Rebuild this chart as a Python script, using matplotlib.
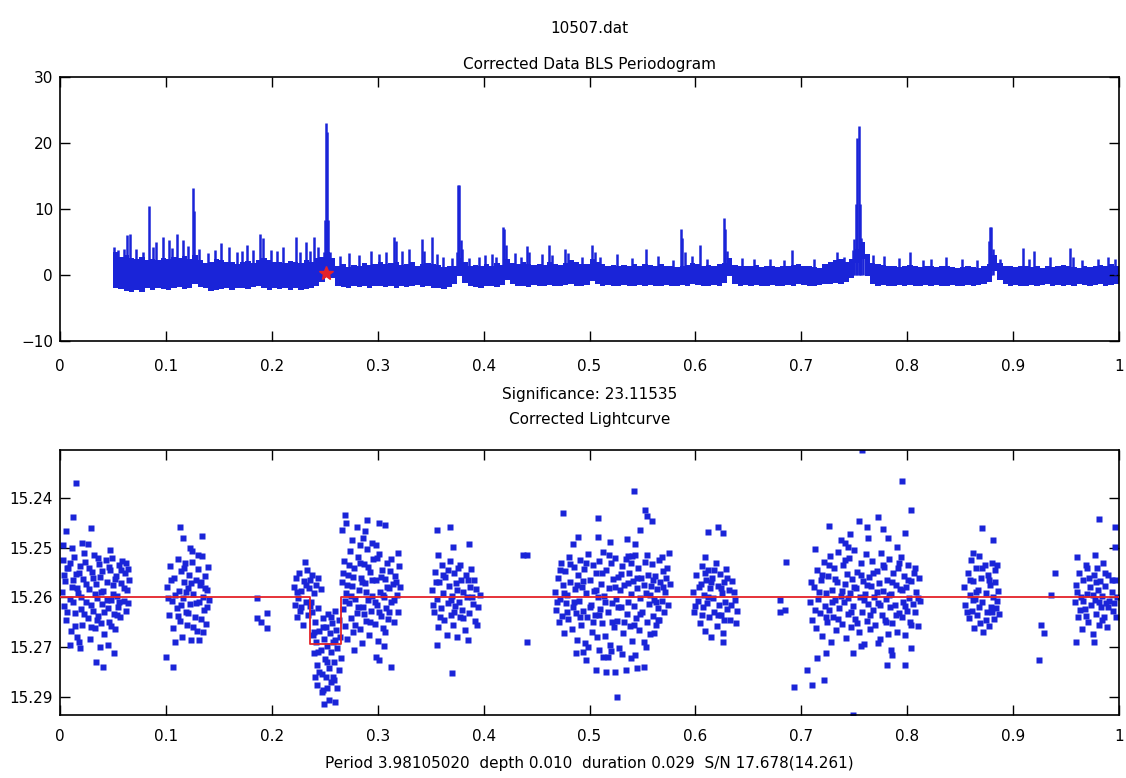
import numpy as np
import matplotlib.pyplot as plt

BLUE = '#1a24d8'
RED = '#e4222a'

# ---- BLS periodogram (frequency in 1/day) ----
freq_grid = np.round(np.arange(0.05, 1.0001, 0.005), 3)

# upper / lower edge of the dense noise band, one value per grid step
band_top = [
    3.5, 2.8, 3.0, 2.6, 2.4, 2.8, 2.2, 2.5, 2.3, 2.6,
    2.4, 2.8, 2.6, 2.9, 2.5, 3.0, 2.2, 1.8, 2.0, 2.4,
    2.2, 1.9, 2.0, 1.7, 1.9, 2.1, 1.8, 2.3, 2.6, 2.2,
    1.9, 2.0, 1.8, 2.1, 2.0, 1.8, 2.2, 2.0, 2.6, 2.8,
    3.5, 2.6, 1.4, 1.6, 1.2, 1.5, 1.4, 1.8, 1.5, 1.7,
    1.9, 1.6, 1.8, 2.0, 1.5, 1.7, 1.9, 1.4, 1.6, 1.8,
    1.7, 1.5, 1.2, 1.4, 1.3, 2.6, 1.9, 1.3, 1.5, 1.4,
    1.6, 1.4, 1.8, 1.5, 2.4, 1.8, 1.6, 1.9, 1.7, 1.5,
    1.6, 1.5, 1.9, 1.7, 1.5, 1.8, 2.2, 1.9, 1.6, 1.7,
    2.4, 2.0, 1.6, 1.4, 1.5, 1.3, 1.5, 1.4, 1.6, 1.3,
    1.6, 1.5, 1.4, 1.6, 1.3, 1.4, 1.2, 1.3, 1.5, 1.8,
    1.6, 1.4, 1.5, 1.3, 1.6, 1.8, 2.6, 1.5, 1.3, 1.4,
    1.3, 1.5, 1.2, 1.4, 1.3, 1.2, 1.4, 1.3, 1.5, 1.6,
    1.4, 1.3, 1.2, 1.1, 1.6, 2.0, 2.2, 2.4, 2.0, 2.4,
    4.0, 5.0, 3.2, 1.8, 1.6, 1.5, 1.3, 1.4, 1.2, 1.4,
    1.5, 1.3, 1.2, 1.4, 1.3, 1.2, 1.3, 1.4, 1.2, 1.1,
    1.2, 1.3, 1.2, 1.1, 1.3, 1.6, 3.0, 1.8, 1.4, 1.3,
    1.2, 1.4, 1.3, 1.2, 1.3, 1.1, 1.3, 1.2, 1.4, 1.5,
    1.3, 1.2, 1.1, 1.3, 1.2, 1.4, 1.5, 1.3, 1.6, 1.4,
    1.5,
]
band_bottom = [
    -1.9, -2.1, -2.4, -2.6, -2.3, -2.5, -2.0, -2.2, -1.9, -2.1,
    -2.2, -2.0, -1.8, -2.1, -1.9, -1.3, -1.8, -2.0, -2.4, -2.2,
    -2.1, -2.0, -2.2, -1.9, -2.0, -2.1, -1.8, -1.6, -2.0, -2.2,
    -2.0, -2.1, -1.9, -2.2, -2.0, -2.3, -2.1, -2.0, -1.6, -1.0,
    0.2, -0.4, -1.6, -1.8, -1.9, -1.7, -1.8, -1.6, -1.9, -1.7,
    -1.6, -1.8, -1.7, -1.9, -1.6, -1.8, -1.7, -1.5, -1.8, -1.7,
    -1.9, -2.0, -2.1, -1.8, -1.4, -0.2, -1.2, -1.7, -1.8, -1.9,
    -1.7, -1.6, -1.8, -1.5, -0.8, -1.4, -1.7, -1.6, -1.8, -1.5,
    -1.6, -1.7, -1.5, -1.6, -1.7, -1.5, -1.4, -1.6, -1.7, -1.5,
    -0.9, -1.4, -1.6, -1.5, -1.7, -1.6, -1.5, -1.7, -1.6, -1.5,
    -1.6, -1.5, -1.7, -1.6, -1.5, -1.7, -1.6, -1.5, -1.6, -1.3,
    -1.5, -1.7, -1.6, -1.5, -1.6, -1.2, -0.2, -1.3, -1.6, -1.5,
    -1.7, -1.5, -1.6, -1.7, -1.5, -1.6, -1.7, -1.5, -1.6, -1.4,
    -1.5, -1.6, -1.7, -1.5, -1.4, -1.3, -1.2, -1.3, -1.1, -0.4,
    1.8, 2.4, -0.2, -1.3, -1.6, -1.5, -1.7, -1.6, -1.5, -1.6,
    -1.5, -1.7, -1.6, -1.5, -1.6, -1.5, -1.7, -1.6, -1.5, -1.6,
    -1.6, -1.5, -1.7, -1.5, -1.4, -1.0, 0.6, -0.8, -1.4, -1.6,
    -1.5, -1.7, -1.6, -1.5, -1.6, -1.5, -1.4, -1.6, -1.5, -1.6,
    -1.5, -1.6, -1.4, -1.5, -1.6, -1.5, -1.4, -1.6, -1.5, -1.4,
    -1.5,
]

# narrow spikes rising out of the band
peak_freq = [
    0.0510, 0.0550, 0.0600, 0.0630, 0.0660, 0.0720, 0.0780, 0.0837, 0.0880, 0.0910,
    0.0970, 0.1030, 0.1060, 0.1100, 0.1160, 0.1210, 0.1256, 0.1268, 0.1310, 0.1400,
    0.1460, 0.1520, 0.1600, 0.1670, 0.1720, 0.1770, 0.1820, 0.1890, 0.1920, 0.1990,
    0.2050, 0.2110, 0.2225, 0.2270, 0.2320, 0.2360, 0.2400, 0.2440, 0.2495, 0.2505,
    0.2512, 0.2520, 0.2530, 0.2545, 0.2640, 0.2730, 0.2820, 0.2940, 0.3010, 0.3080,
    0.3150, 0.3170, 0.3230, 0.3300, 0.3415, 0.3440, 0.3516, 0.3560, 0.3620, 0.3700,
    0.3748, 0.3762, 0.3772, 0.3785, 0.3798, 0.3860, 0.3960, 0.4013, 0.4083, 0.4120,
    0.4185, 0.4195, 0.4210, 0.4300, 0.4350, 0.4407, 0.4425, 0.4550, 0.4618, 0.4650,
    0.4770, 0.4800, 0.4930, 0.5020, 0.5050, 0.5100, 0.5257, 0.5400, 0.5530, 0.5650,
    0.5790, 0.5862, 0.5875, 0.5900, 0.5970, 0.6040, 0.6110, 0.6270, 0.6282, 0.6300,
    0.6440, 0.6550, 0.6700, 0.6840, 0.6910, 0.7120, 0.7340, 0.7400, 0.7490, 0.7500,
    0.7515, 0.7530, 0.7540, 0.7550, 0.7565, 0.7580, 0.7680, 0.7780, 0.7920, 0.8026,
    0.8150, 0.8220, 0.8370, 0.8520, 0.8660, 0.8775, 0.8785, 0.8795, 0.8810, 0.8880,
    0.9097, 0.9150, 0.9200, 0.9350, 0.9537, 0.9570, 0.9650, 0.9800, 0.9900, 0.9960,
]
peak_power = [
    4.3, 3.8, 4.0, 6.0, 6.2, 3.9, 3.5, 10.4, 4.2, 5.0,
    5.8, 5.3, 4.1, 6.2, 5.3, 4.4, 13.2, 9.7, 4.0, 3.3,
    3.8, 4.8, 4.3, 3.5, 3.7, 4.6, 3.8, 6.2, 5.6, 3.8,
    3.6, 4.3, 5.8, 3.5, 5.0, 3.6, 5.8, 4.3, 3.5, 8.3,
    23.1, 21.6, 8.3, 3.5, 2.9, 3.4, 3.0, 3.7, 3.2, 3.5,
    5.8, 5.2, 3.7, 3.9, 5.4, 3.7, 5.7, 3.2, 2.8, 2.6,
    3.5, 13.7, 13.7, 5.3, 4.0, 2.6, 2.8, 3.0, 3.2, 2.8,
    7.3, 7.0, 4.5, 3.4, 2.7, 4.4, 3.5, 3.2, 4.6, 3.0,
    3.9, 3.4, 2.8, 4.6, 3.5, 2.8, 3.2, 2.6, 3.9, 2.9,
    2.2, 7.0, 5.6, 3.5, 2.9, 4.6, 2.5, 8.7, 7.0, 3.6,
    2.6, 2.5, 2.4, 2.3, 3.8, 2.4, 3.5, 2.8, 3.8, 5.5,
    10.8, 20.8, 22.6, 10.8, 5.6, 3.8, 3.0, 2.9, 2.6, 3.5,
    2.2, 2.5, 2.8, 2.4, 2.3, 5.1, 7.3, 7.2, 4.0, 2.4,
    4.1, 2.5, 3.7, 2.8, 4.1, 2.7, 2.3, 2.4, 2.8, 2.5,
]
best_freq = 0.2512
best_power = 0.3

# ---- folded light curve: (phase, mag - 15.26 in millimag) ----
lc_a = [(0.003, -7.5), (0.005, -3.2), (0.004, 1.8), (0.006, 4.6), (0.008, -5.9), (0.009, 0.4),
        (0.010, 6.8), (0.011, -2.1), (0.013, -8.2), (0.014, 3.1), (0.015, -4.7), (0.016, 7.9),
        (0.017, -0.9), (0.019, -6.3), (0.020, 2.4), (0.021, 5.5), (0.022, -3.8), (0.024, -7.1),
        (0.025, 0.9), (0.026, 4.1), (0.027, -1.6), (0.028, 8.4), (0.030, -5.2), (0.031, 2.8),
        (0.032, -8.6), (0.033, 6.1), (0.034, -2.7), (0.035, 0.1), (0.036, 3.7), (0.037, -6.8),
        (0.038, -4.1), (0.039, 5.2), (0.040, 1.3), (0.041, -1.2), (0.042, 7.3), (0.043, -7.6),
        (0.044, -3.0), (0.045, 2.2), (0.046, 4.9), (0.047, -5.5), (0.048, 0.6), (0.049, -8.0),
        (0.050, -2.4), (0.051, 3.3), (0.052, 6.4), (0.053, -4.4), (0.054, -0.3), (0.055, 1.9),
        (0.056, -6.6), (0.057, 4.0), (0.058, -2.9), (0.059, -7.3), (0.060, 0.8), (0.061, -4.9),
        (0.062, 2.7), (0.063, -1.5), (0.064, -5.8), (0.065, -3.4), (0.002, -1.0), (0.007, -6.0),
        (0.012, 1.0), (0.018, 9.0), (0.023, -9.0), (0.029, 6.0), (0.045, 9.5), (0.038, 10.0),
        (0.004, -4.5), (0.007, 2.9), (0.009, -7.0), (0.012, -3.6), (0.014, 5.8), (0.016, -1.8),
        (0.018, -5.0), (0.020, 0.0), (0.023, 3.3), (0.025, -2.6), (0.027, -6.0), (0.029, 1.5),
        (0.031, -3.9), (0.033, -0.7), (0.035, 4.5), (0.036, -7.9), (0.039, -1.0), (0.040, -5.3),
        (0.042, 3.0), (0.044, 0.5), (0.046, -6.2), (0.048, 5.8), (0.050, -0.6), (0.052, -3.8),
        (0.054, 3.6), (0.056, 0.9), (0.058, -5.6), (0.060, -1.8), (0.062, -7.0), (0.064, 1.1),
        (0.011, -10.0), (0.021, -11.0), (0.047, -9.5),
        (0.015, -23.0), (0.012, -16.2), (0.006, -13.3), (0.029, -13.9), (0.041, 13.9),
        (0.034, 12.9), (0.051, 11.2), (0.019, 10.2), (0.009, 9.5), (0.003, -10.5), (0.026, -10.8)]
lc_b = [(0.101, -2.0), (0.103, 3.5), (0.104, -6.4), (0.106, 0.8), (0.107, 6.2), (0.108, -4.0),
        (0.110, 2.1), (0.111, -7.8), (0.112, -1.2), (0.113, 4.8), (0.114, -5.3), (0.115, 7.9),
        (0.116, 0.2), (0.117, -3.1), (0.118, -6.9), (0.119, 2.9), (0.120, 5.6), (0.121, -1.9),
        (0.122, -4.6), (0.123, 1.4), (0.124, 8.6), (0.125, -7.2), (0.126, -0.6), (0.127, 3.9),
        (0.128, -3.6), (0.129, 6.7), (0.130, -5.7), (0.131, 1.0), (0.132, -2.5), (0.133, 4.3),
        (0.134, -8.3), (0.135, -0.1), (0.136, 2.6), (0.137, -4.3), (0.138, 5.3), (0.139, -1.4),
        (0.140, -6.2), (0.141, 0.5), (0.109, 9.0), (0.131, 8.5),
        (0.102, 0.2), (0.105, -3.5), (0.109, -0.5), (0.111, 3.8), (0.114, 1.6), (0.117, -5.9),
        (0.119, -1.0), (0.121, 3.2), (0.124, -2.8), (0.126, 6.0), (0.128, 1.2), (0.130, -8.6),
        (0.133, -3.0), (0.135, 6.9), (0.137, -1.8), (0.139, 2.0),
        (0.113, -14.1), (0.116, -11.9), (0.134, -12.4), (0.123, -10.0), (0.125, -9.3),
        (0.100, 11.9), (0.107, 13.9)]
lc_gap1 = [(0.186, 0.2), (0.195, 3.1), (0.186, 4.1), (0.195, 6.1), (0.190, 5.0)]
lc_c = [(0.221, -2.0), (0.222, 1.5), (0.223, -3.9), (0.224, 4.0), (0.225, 0.2), (0.226, -5.0),
        (0.227, 2.8), (0.228, -1.3), (0.229, 5.5), (0.230, -3.2), (0.231, -7.2), (0.232, 0.9),
        (0.233, -5.5), (0.234, 3.6), (0.235, -1.9), (0.236, -3.5), (0.237, 1.0), (0.238, -4.5),
        (0.240, -0.9), (0.242, -2.5), (0.244, -4.0), (0.246, -1.6),
        (0.224, -1.0), (0.228, 2.0), (0.232, -2.5), (0.236, 1.8)]
lc_dip = [(0.238, 3.0), (0.239, 7.5), (0.240, 11.2), (0.241, 5.0), (0.242, 9.0), (0.243, 13.5),
          (0.244, 2.2), (0.245, 6.8), (0.246, 10.5), (0.247, 15.3), (0.248, 4.2), (0.249, 8.3),
          (0.250, 12.4), (0.251, 6.0), (0.252, 9.8), (0.253, 3.4), (0.254, 14.2), (0.255, 7.2),
          (0.256, 11.0), (0.257, 5.1), (0.258, 8.9), (0.259, 13.0), (0.260, 2.7), (0.261, 6.5),
          (0.262, 10.1), (0.263, 4.5), (0.264, 8.0), (0.265, 12.2), (0.243, 17.5), (0.247, 19.0),
          (0.252, 18.2), (0.256, 17.0), (0.249, 21.3), (0.254, 20.5), (0.241, 16.0), (0.258, 16.0),
          (0.262, 18.2), (0.259, 16.6), (0.248, 18.6), (0.260, 20.9),
          (0.240, 7.0), (0.244, 11.0), (0.248, 6.0), (0.252, 13.0), (0.256, 4.0), (0.260, 8.5),
          (0.263, 14.5), (0.245, 15.0), (0.251, 16.0)]
lc_d = [(0.266, -3.0), (0.267, 2.4), (0.268, -7.4), (0.269, 5.8), (0.270, -0.8), (0.271, 8.4),
        (0.272, -4.6), (0.273, 1.2), (0.274, -9.3), (0.275, 4.1), (0.276, -2.2), (0.277, 7.0),
        (0.278, -6.0), (0.279, 0.3), (0.280, 3.2), (0.281, -8.1), (0.282, -1.5), (0.283, 6.3),
        (0.284, -4.0), (0.285, 9.2), (0.286, 1.9), (0.287, -6.8), (0.288, -2.9), (0.289, 4.7),
        (0.290, -9.8), (0.291, 0.6), (0.292, 7.6), (0.293, -5.1), (0.294, 2.7), (0.295, -0.2),
        (0.296, -7.7), (0.297, 5.4), (0.298, -3.4), (0.299, 1.5), (0.300, 8.8), (0.301, -8.8),
        (0.302, -1.1), (0.303, 3.8), (0.304, -5.6), (0.305, 6.1), (0.306, 0.0), (0.307, -3.7),
        (0.308, 2.2), (0.309, -7.0), (0.310, 4.4), (0.311, -1.8), (0.312, -5.3), (0.313, 1.0),
        (0.314, -2.6), (0.315, 5.0), (0.316, -4.3), (0.318, -0.5), (0.319, 2.9), (0.320, -6.3),
        (0.321, -2.0), (0.283, -10.5), (0.295, -11.0), (0.278, 10.5), (0.306, 9.8),
        (0.267, -5.0), (0.269, 0.8), (0.271, -2.4), (0.273, -6.5), (0.275, -0.3), (0.277, -4.2),
        (0.279, 5.6), (0.281, 2.0), (0.283, -7.0), (0.285, -3.0), (0.287, 3.4), (0.289, -1.0),
        (0.291, -6.1), (0.293, 5.0), (0.295, -3.6), (0.297, 1.0), (0.299, -8.0), (0.301, 3.0),
        (0.303, -4.2), (0.305, -0.5), (0.307, 7.0), (0.309, -2.0), (0.311, 3.0), (0.313, -7.8),
        (0.315, 0.5), (0.317, -3.0), (0.319, -9.0), (0.276, -11.5), (0.286, -12.0), (0.298, -10.5),
        (0.269, -16.6), (0.270, -14.9), (0.280, -14.1), (0.288, -13.3), (0.290, -15.6),
        (0.301, -14.9), (0.307, -14.6), (0.266, -13.6), (0.301, 12.5), (0.313, 13.9), (0.298, 11.9)]
lc_e = [(0.351, -1.5), (0.353, 3.0), (0.354, -5.2), (0.356, 0.4), (0.357, 6.0), (0.358, -3.0),
        (0.360, 2.2), (0.361, -6.6), (0.362, -0.8), (0.363, 4.6), (0.364, -4.1), (0.365, 7.5),
        (0.366, 1.1), (0.367, -2.3), (0.368, -7.4), (0.369, 3.5), (0.370, -0.3), (0.371, 5.6),
        (0.372, -5.0), (0.373, 1.8), (0.374, -2.8), (0.375, 8.0), (0.376, -6.0), (0.377, 0.9),
        (0.378, 4.0), (0.379, -3.6), (0.380, 2.6), (0.381, -1.0), (0.382, 6.6), (0.383, -4.6),
        (0.384, 0.0), (0.386, 3.2), (0.387, -2.0), (0.388, -5.8), (0.390, 1.4), (0.392, 4.8),
        (0.393, -1.6), (0.395, 2.0), (0.397, -0.5),
        (0.352, 1.5), (0.355, -3.0), (0.359, 4.0), (0.362, -4.5), (0.366, -5.5), (0.369, 0.5),
        (0.372, 2.9), (0.375, -1.5), (0.378, -6.5), (0.381, 4.2), (0.385, -3.4), (0.389, 0.0),
        (0.391, -3.5), (0.394, 5.5),
        (0.356, -13.6), (0.368, -14.1), (0.371, -10.2), (0.386, -10.8), (0.357, -8.5),
        (0.356, 9.5), (0.370, 15.1), (0.385, 8.5)]
lc_gap2 = [(0.437, -8.5), (0.441, -8.5), (0.441, 8.9)]
lc_f = [(0.467, -1.0), (0.468, 2.5), (0.470, -4.0), (0.471, 5.0), (0.472, 0.3), (0.473, -7.0),
        (0.474, 3.8), (0.475, -2.5), (0.476, 7.2), (0.477, -5.4), (0.478, 1.2), (0.479, -0.4),
        (0.480, 4.4), (0.481, -8.2), (0.482, -3.0), (0.483, 6.3), (0.484, 1.9), (0.485, -6.1),
        (0.486, -1.6), (0.487, 3.2), (0.488, 8.5), (0.489, -4.5), (0.490, 0.7), (0.491, -7.6),
        (0.492, 5.6), (0.493, -2.0), (0.494, 2.8), (0.495, -5.8), (0.496, 9.1), (0.497, -0.8),
        (0.498, 4.0), (0.499, -8.8), (0.500, -3.4), (0.501, 1.5), (0.502, 6.9), (0.503, -6.5),
        (0.504, -1.2), (0.505, 3.6), (0.506, -4.9), (0.507, 8.0), (0.508, 0.0), (0.509, -7.3),
        (0.510, 2.3), (0.511, -2.7), (0.512, 5.2), (0.513, -9.2), (0.514, -0.3), (0.515, 7.7),
        (0.516, -5.5), (0.517, 3.0), (0.518, -1.8), (0.519, 9.5), (0.520, -6.9), (0.521, 1.1),
        (0.522, -3.8), (0.523, 6.0), (0.524, -8.0), (0.525, 0.4), (0.526, 4.7), (0.527, -4.2),
        (0.528, 10.2), (0.529, -1.4), (0.530, 2.0), (0.531, -6.3), (0.532, 7.1), (0.533, -2.4),
        (0.534, -7.8), (0.535, 3.4), (0.536, 0.9), (0.537, -5.0), (0.538, 5.8), (0.539, -0.6),
        (0.540, 8.7), (0.541, -3.2), (0.542, 1.7), (0.543, -8.5), (0.544, 4.2), (0.545, -1.9),
        (0.546, -5.9), (0.547, 6.5), (0.548, 0.2), (0.549, -3.9), (0.550, 2.9), (0.551, 9.0),
        (0.552, -7.1), (0.553, -0.9), (0.554, 4.9), (0.555, -4.6), (0.556, 1.3), (0.557, 7.4),
        (0.558, -2.2), (0.559, -6.7), (0.560, 3.7), (0.561, 0.6), (0.562, -4.4), (0.563, 5.5),
        (0.564, -1.7), (0.565, 2.1), (0.566, -7.5), (0.567, -3.1), (0.568, 0.8), (0.569, -5.3),
        (0.570, 3.0), (0.571, -1.1), (0.572, -4.0), (0.574, 1.6), (0.576, -2.6), (0.494, 11.0),
        (0.517, 12.0), (0.531, 11.3), (0.509, 10.5), (0.553, 10.0),
        (0.469, 1.0), (0.472, -5.5), (0.476, -0.8), (0.479, 3.0), (0.482, -6.8), (0.485, 0.9),
        (0.488, -2.5), (0.491, 4.0), (0.494, -3.2), (0.497, -6.9), (0.500, 2.0), (0.503, 5.0),
        (0.506, -1.5), (0.509, 3.5), (0.512, -5.0), (0.515, 0.9), (0.518, -8.5), (0.521, 5.0),
        (0.524, -2.0), (0.527, 2.0), (0.530, -4.8), (0.533, 4.9), (0.536, -2.9), (0.539, -7.0),
        (0.542, 5.5), (0.545, -4.0), (0.548, 3.4), (0.551, -2.5), (0.554, -8.5), (0.557, -0.5),
        (0.560, -3.5), (0.563, 1.0), (0.566, 4.5), (0.569, -2.0), (0.573, -6.0), (0.497, 12.5),
        (0.520, 10.8), (0.539, 12.2),
        (0.475, -16.9), (0.508, -15.9), (0.542, -21.3), (0.552, -17.6), (0.554, -16.3),
        (0.559, -15.3), (0.548, -13.6), (0.489, -12.2), (0.508, -12.2), (0.519, -11.2),
        (0.535, -11.7), (0.543, -10.8), (0.536, -8.3), (0.540, -8.3), (0.568, -8.2),
        (0.575, -8.9), (0.484, -10.8), (0.506, 14.6), (0.516, 14.9), (0.524, 14.9),
        (0.534, 14.6), (0.545, 14.2), (0.551, 13.9), (0.526, 19.9), (0.543, 11.5),
        (0.487, 11.2), (0.499, 9.9), (0.513, 11.9), (0.561, 7.2), (0.565, 4.5)]
lc_g = [(0.598, -1.0), (0.599, 3.0), (0.601, -4.5), (0.602, 0.8), (0.604, 5.2), (0.605, -2.6),
        (0.606, -6.4), (0.607, 2.0), (0.608, -0.4), (0.609, 6.8), (0.610, -3.6), (0.611, 1.2),
        (0.612, -5.5), (0.613, 4.0), (0.614, -1.8), (0.615, 8.0), (0.616, -4.0), (0.617, 0.2),
        (0.618, 2.9), (0.619, -6.9), (0.620, 5.7), (0.621, -2.2), (0.622, 1.6), (0.623, -4.8),
        (0.624, 3.6), (0.625, -0.8), (0.626, 7.2), (0.627, -3.0), (0.628, 0.9), (0.629, -5.8),
        (0.630, 2.4), (0.632, -1.4), (0.633, 4.5), (0.635, -3.3), (0.637, 0.5), (0.639, 2.8),
        (0.600, 1.8), (0.603, -2.0), (0.606, 3.5), (0.609, -5.0), (0.612, 0.0), (0.615, -3.0),
        (0.618, -5.5), (0.621, 3.5), (0.624, -1.8), (0.627, 4.5), (0.630, -4.0), (0.634, 1.5),
        (0.636, -1.0), (0.638, 5.2),
        (0.612, -13.2), (0.621, -14.2), (0.626, -12.9), (0.609, -8.2), (0.626, 8.9)]
lc_gap3 = [(0.680, 0.5), (0.685, 2.6), (0.686, -7.2), (0.680, 2.9), (0.705, 14.5),
           (0.693, 17.9), (0.710, 17.6), (0.721, 16.6), (0.715, 12.2), (0.723, 11.2)]
lc_h = [(0.708, 1.0), (0.710, 4.5), (0.712, -2.0), (0.714, 6.2), (0.715, -5.6), (0.716, 0.3),
        (0.718, 3.1), (0.719, -3.5), (0.720, 7.8), (0.721, -7.2), (0.722, 1.7), (0.723, -0.9),
        (0.724, 5.0), (0.725, -4.4), (0.726, 2.6), (0.727, -8.4), (0.728, 8.9), (0.729, -1.5),
        (0.730, 3.9), (0.731, -5.9), (0.732, 0.6), (0.733, 6.6), (0.734, -3.0), (0.735, -9.1),
        (0.736, 2.2), (0.737, -0.3), (0.738, 5.4), (0.739, -6.6), (0.740, 1.0), (0.741, -2.6),
        (0.742, 8.1), (0.743, -4.8), (0.744, 3.4), (0.745, -7.9), (0.746, -0.9), (0.747, 6.0),
        (0.748, -3.8), (0.749, 1.8), (0.750, -9.6), (0.751, 4.3), (0.752, -1.9), (0.753, -5.2),
        (0.754, 7.0), (0.755, 0.0), (0.756, -6.9), (0.757, 2.9), (0.758, -3.3), (0.759, 9.4),
        (0.760, -0.6), (0.761, -8.7), (0.762, 4.8), (0.763, 1.4), (0.764, -4.1), (0.765, 6.4),
        (0.766, -2.2), (0.767, -7.4), (0.768, 2.5), (0.769, -0.1), (0.770, 5.6), (0.771, -5.4),
        (0.772, 1.1), (0.773, -2.9), (0.774, 8.4), (0.775, -9.0), (0.776, 3.5), (0.777, -1.2),
        (0.778, -6.2), (0.779, 4.6), (0.780, 0.4), (0.781, -3.6), (0.782, 7.3), (0.783, -7.7),
        (0.784, 2.0), (0.785, -0.7), (0.786, 5.1), (0.787, -4.9), (0.788, 1.5), (0.789, -2.4),
        (0.790, 6.9), (0.791, -6.0), (0.792, 3.2), (0.793, -1.6), (0.794, -8.1), (0.795, 4.0),
        (0.796, 0.9), (0.797, -4.4), (0.798, 7.6), (0.799, -2.0), (0.800, 2.7), (0.801, -6.5),
        (0.802, 0.2), (0.803, 4.9), (0.804, -3.2), (0.805, 1.3), (0.806, -5.0), (0.807, 3.0),
        (0.808, -1.0), (0.810, 5.8), (0.811, -3.9), (0.812, 0.8),
        (0.709, -3.0), (0.713, 2.5), (0.717, -1.0), (0.720, -4.5), (0.723, 4.0), (0.726, -6.5),
        (0.729, 1.0), (0.732, -3.8), (0.735, 4.4), (0.738, -1.2), (0.741, -7.5), (0.744, 0.2),
        (0.747, 3.0), (0.750, -2.0), (0.753, 5.2), (0.756, -4.5), (0.759, 0.5), (0.762, -2.5),
        (0.765, 3.5), (0.768, -5.0), (0.771, -1.0), (0.774, 1.5), (0.777, -6.5), (0.780, 5.0),
        (0.783, -0.5), (0.786, -3.0), (0.789, 3.5), (0.792, -7.0), (0.795, -1.5), (0.798, 1.8),
        (0.801, -3.5), (0.804, 5.5), (0.807, -6.0), (0.810, 0.2), (0.741, -11.0), (0.763, -12.0),
        (0.785, 10.5), (0.756, 9.8),
        (0.757, -29.5), (0.795, -23.3), (0.804, -17.5), (0.726, -14.4), (0.754, -15.4),
        (0.772, -16.2), (0.762, -14.1), (0.777, -13.7), (0.798, -12.9), (0.713, -9.7),
        (0.737, -11.6), (0.746, -12.8), (0.790, -10.2), (0.782, -11.9), (0.744, -10.2),
        (0.749, 11.2), (0.781, 13.6), (0.798, 13.6), (0.804, 10.2), (0.786, 11.6),
        (0.749, 23.6), (0.772, 9.2)]
lc_i = [(0.854, -2.0), (0.855, 1.5), (0.857, -5.0), (0.858, 4.2), (0.859, -0.5), (0.860, -7.6),
        (0.861, 2.7), (0.862, -3.2), (0.863, 6.1), (0.864, 0.4), (0.865, -5.9), (0.866, 3.5),
        (0.867, -1.5), (0.868, -8.3), (0.869, 5.2), (0.870, -3.9), (0.871, 1.0), (0.872, 7.0),
        (0.873, -6.5), (0.874, -0.9), (0.875, 3.0), (0.876, -4.5), (0.877, 5.8), (0.878, -2.4),
        (0.879, 1.9), (0.880, -7.0), (0.881, 0.0), (0.882, 4.4), (0.883, -3.0), (0.884, 2.2),
        (0.886, -1.2), (0.887, 3.4),
        (0.856, 3.0), (0.859, -3.5), (0.862, 0.5), (0.865, -1.0), (0.868, 2.0), (0.871, -6.0),
        (0.874, 4.5), (0.877, -3.5), (0.880, 3.0), (0.883, -5.5), (0.885, 0.8),
        (0.871, -13.9), (0.881, -11.6), (0.862, -8.9), (0.885, -6.5)]
lc_gap4 = [(0.940, -4.9), (0.936, -0.5), (0.926, 5.5), (0.929, 7.2), (0.924, 12.6)]
lc_j = [(0.958, 1.0), (0.959, -2.5), (0.961, 4.0), (0.962, -5.0), (0.964, 0.0), (0.965, 6.3),
        (0.966, -3.6), (0.968, 2.3), (0.969, -6.6), (0.970, -0.7), (0.971, 4.9), (0.973, -2.0),
        (0.974, 1.6), (0.975, 7.4), (0.976, -4.5), (0.977, 0.5), (0.978, 3.3), (0.979, -6.0),
        (0.980, -1.5), (0.981, 5.6), (0.982, -3.2), (0.983, 2.0), (0.984, -0.3), (0.985, -7.0),
        (0.986, 3.9), (0.987, -2.2), (0.988, 1.1), (0.989, 6.0), (0.990, -4.6), (0.991, 0.7),
        (0.993, -1.0), (0.994, 2.8), (0.996, -3.4), (0.998, 0.0),
        (0.960, -1.0), (0.963, 2.5), (0.966, 0.8), (0.969, 3.8), (0.972, -4.0), (0.975, -0.5),
        (0.978, -3.0), (0.981, 1.0), (0.984, 4.5), (0.987, -5.0), (0.990, 2.0), (0.993, -3.5),
        (0.995, 1.2), (0.997, 4.0),
        (0.981, -15.7), (0.996, -14.2), (0.977, -8.5), (0.996, -10.1), (0.960, -8.2),
        (0.970, -5.9), (0.959, 8.9), (0.976, 8.9)]

# box-shaped transit model
model_phase = [0.0, 0.236, 0.236, 0.265, 0.265, 1.0]
model_dmag = [0.0, 0.0, 9.3, 9.3, 0.0, 0.0]

mag_ticks = [15.24, 15.25, 15.26, 15.27, 15.28]
mag_tick_labels = ['15.24', '15.25', '15.26', '15.27', '15.29']
phase_ticks = [0, 0.1, 0.2, 0.3, 0.4, 0.5, 0.6, 0.7, 0.8, 0.9, 1]

plt.rcParams['font.family'] = ['DejaVu Sans']
plt.rcParams['font.size'] = 11

fig = plt.figure(figsize=(11.26, 7.78), dpi=100)
ax1 = fig.add_axes([0.0533, 0.5617, 0.9405, 0.3393])
ax2 = fig.add_axes([0.0533, 0.0810, 0.9405, 0.3406])

# top: periodogram
ax1.fill_between(freq_grid, band_bottom, band_top, step='post', color=BLUE, lw=0)
ax1.vlines(peak_freq, 0, peak_power, color=BLUE, lw=1.8)
ax1.plot(best_freq, best_power, '*', color=RED, ms=10, mec=RED)
ax1.set_xlim(0, 1)
ax1.set_ylim(-10, 30)
ax1.set_yticks([-10, 0, 10, 20, 30])
ax1.set_title('10507.dat\nCorrected Data BLS Periodogram', fontsize=11, pad=6, linespacing=2.75)
ax1.set_xlabel('Significance: 23.11535', fontsize=11, labelpad=9)

# bottom: folded light curve
groups = [lc_a, lc_b, lc_gap1, lc_c, lc_dip, lc_d, lc_e, lc_gap2, lc_f, lc_g,
          lc_gap3, lc_h, lc_i, lc_gap4, lc_j]
pts = np.array([p for g in groups for p in g])
ax2.plot(pts[:, 0], 15.26 + pts[:, 1] / 1000.0, 's', ms=4.6, color=BLUE, mec='none')
ax2.plot(model_phase, 15.26 + np.array(model_dmag) / 1000.0, color=RED, lw=1.3, zorder=3)
ax2.set_xlim(0, 1)
ax2.set_ylim(15.2836, 15.2304)
ax2.set_yticks(mag_ticks)
ax2.set_yticklabels(mag_tick_labels)
ax2.set_title('Corrected Lightcurve', fontsize=11, pad=19)
ax2.set_xlabel('Period 3.98105020  depth 0.010  duration 0.029  S/N 17.678(14.261)',
               fontsize=11, labelpad=9)

for ax, xpad in ((ax1, 13), (ax2, 10)):
    ax.set_xticks(phase_ticks)
    ax.set_xticklabels([f'{t:g}' for t in phase_ticks])
    ax.tick_params(direction='in', length=7, width=1, top=True, right=True, labelsize=11)
    ax.tick_params(axis='x', pad=xpad)
    ax.tick_params(axis='y', pad=5)
    for s in ax.spines.values():
        s.set_linewidth(1.2)

fig.savefig('out.png', dpi=100)
